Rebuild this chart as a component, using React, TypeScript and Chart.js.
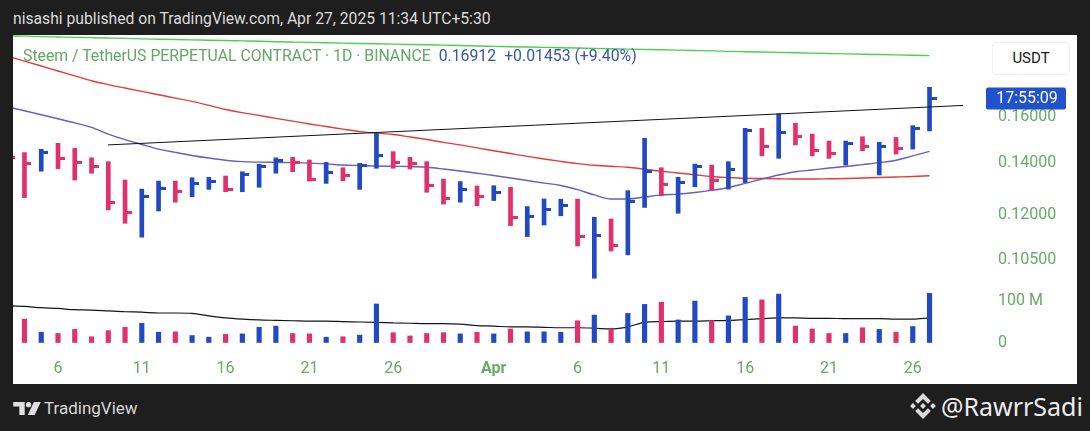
import React, { useEffect, useRef } from "react";
import { Chart, registerables } from "chart.js";

Chart.register(...registerables);

// ---------- data ----------
const DATES = [
  "2025-03-03", "2025-03-04", "2025-03-05", "2025-03-06", "2025-03-07", "2025-03-08", "2025-03-09",
  "2025-03-10", "2025-03-11", "2025-03-12", "2025-03-13", "2025-03-14", "2025-03-15", "2025-03-16",
  "2025-03-17", "2025-03-18", "2025-03-19", "2025-03-20", "2025-03-21", "2025-03-22", "2025-03-23",
  "2025-03-24", "2025-03-25", "2025-03-26", "2025-03-27", "2025-03-28", "2025-03-29", "2025-03-30",
  "2025-03-31", "2025-04-01", "2025-04-02", "2025-04-03", "2025-04-04", "2025-04-05", "2025-04-06",
  "2025-04-07", "2025-04-08", "2025-04-09", "2025-04-10", "2025-04-11", "2025-04-12", "2025-04-13",
  "2025-04-14", "2025-04-15", "2025-04-16", "2025-04-17", "2025-04-18", "2025-04-19", "2025-04-20",
  "2025-04-21", "2025-04-22", "2025-04-23", "2025-04-24", "2025-04-25", "2025-04-26", "2025-04-27",
];

const HIGH = [
  0.1453, 0.1442, 0.1456, 0.1482, 0.146, 0.142, 0.1404, 0.133, 0.1295, 0.1326,
  0.1326, 0.1339, 0.1341, 0.1346, 0.1363, 0.1393, 0.142, 0.1422, 0.1411, 0.1401,
  0.1379, 0.1397, 0.1526, 0.1446, 0.1422, 0.1404, 0.1334, 0.1324, 0.1307, 0.1308,
  0.1302, 0.123, 0.1258, 0.1257, 0.1257, 0.1192, 0.1186, 0.1289, 0.1504, 0.1379,
  0.1341, 0.1394, 0.139, 0.1404, 0.1549, 0.1549, 0.1616, 0.1572, 0.1523, 0.1492,
  0.1492, 0.1511, 0.1486, 0.1508, 0.1561, 0.1748,
];
const LOW = [
  0.137, 0.1263, 0.1365, 0.1375, 0.133, 0.1357, 0.1218, 0.1171, 0.1124, 0.1214,
  0.1246, 0.1266, 0.1294, 0.1285, 0.1285, 0.1302, 0.1357, 0.1363, 0.1326, 0.1317,
  0.1327, 0.1294, 0.1377, 0.1377, 0.1374, 0.1283, 0.1239, 0.1246, 0.1233, 0.1252,
  0.1163, 0.1126, 0.1165, 0.1197, 0.1095, 0.0996, 0.1079, 0.1067, 0.1227, 0.127,
  0.1206, 0.1304, 0.1292, 0.1295, 0.132, 0.1428, 0.1418, 0.1475, 0.1428, 0.1418,
  0.139, 0.145, 0.135, 0.1436, 0.1457, 0.1537,
];
const CLOSE = [
  0.1423, 0.1397, 0.1442, 0.1418, 0.14, 0.1386, 0.1244, 0.1208, 0.1266, 0.1298,
  0.1285, 0.1315, 0.1324, 0.1295, 0.135, 0.1386, 0.1408, 0.1401, 0.1333, 0.1359,
  0.1346, 0.1387, 0.1429, 0.1401, 0.1397, 0.1308, 0.126, 0.1294, 0.1266, 0.1283,
  0.119, 0.1194, 0.1218, 0.1233, 0.1126, 0.1131, 0.1098, 0.1248, 0.1365, 0.1313,
  0.132, 0.1386, 0.133, 0.1373, 0.1541, 0.147, 0.1531, 0.1514, 0.1453, 0.1439,
  0.1482, 0.1467, 0.147, 0.146, 0.1546, 0.16912,
];
const CLOSE_BEFORE_FIRST = 0.145;

// volume in millions
const VOLUME_M = [
  30, 57, 25, 22, 32, 14, 29, 37, 47, 25,
  26, 17, 13, 20, 21, 37, 40, 22, 21, 13,
  14, 18, 94, 24, 16, 22, 24, 21, 25, 21,
  33, 26, 26, 25, 53, 67, 33, 71, 93, 98,
  55, 101, 53, 65, 110, 104, 118, 40, 33, 22,
  22, 36, 32, 25, 39, 120,
];
const VOLUME_MA_M = [
  90, 88, 85, 83, 80, 79, 77, 75, 74, 72,
  72, 71, 65, 60, 57, 55, 54, 53, 52, 52,
  51, 50, 49, 48, 47, 46, 46, 45, 41, 40,
  38, 38, 37, 36, 36, 35, 33, 38, 49, 51,
  52, 52, 53, 54, 56, 58, 60, 60, 59, 59,
  58, 58, 58, 57, 57, 60,
];

const MA_PURPLE = [
  0.1649, 0.1631, 0.1612, 0.1593, 0.1574, 0.1553, 0.1523, 0.1498, 0.1477, 0.1457,
  0.1443, 0.143, 0.1419, 0.141, 0.1404, 0.1402, 0.1401, 0.14, 0.1398, 0.1395,
  0.139, 0.1388, 0.1386, 0.1385, 0.1384, 0.1381, 0.1374, 0.1366, 0.1357, 0.1348,
  0.1338, 0.1328, 0.1318, 0.1309, 0.1293, 0.1273, 0.1258, 0.1258, 0.1265, 0.1273,
  0.1276, 0.1282, 0.129, 0.1301, 0.1317, 0.1334, 0.135, 0.1363, 0.137, 0.1378,
  0.1384, 0.1392, 0.14, 0.141, 0.1428, 0.1447,
];
const MA_RED = [
  0.1915, 0.1888, 0.1861, 0.1834, 0.1808, 0.1782, 0.1762, 0.1744, 0.1727, 0.171,
  0.1693, 0.1677, 0.1657, 0.1637, 0.1622, 0.1609, 0.1595, 0.1582, 0.1569, 0.1557,
  0.1545, 0.1534, 0.1527, 0.1521, 0.151, 0.1499, 0.1486, 0.1475, 0.1462, 0.145,
  0.1438, 0.1426, 0.1415, 0.1405, 0.1396, 0.1389, 0.1385, 0.1381, 0.1373, 0.1365,
  0.1358, 0.1351, 0.1344, 0.134, 0.1337, 0.1336, 0.1335, 0.1334, 0.1334, 0.1335,
  0.1336, 0.1338, 0.134, 0.1342, 0.1344, 0.1347,
];
const MA_GREEN = [
  0.2034, 0.2032, 0.2029, 0.2027, 0.2025, 0.2023, 0.2021, 0.2019, 0.2016, 0.2014,
  0.2012, 0.201, 0.2008, 0.2006, 0.2004, 0.2002, 0.1999, 0.1997, 0.1995, 0.1993,
  0.1991, 0.1989, 0.1987, 0.1985, 0.1983, 0.1981, 0.1979, 0.1977, 0.1974, 0.1972,
  0.197, 0.1968, 0.1966, 0.1964, 0.1962, 0.196, 0.1958, 0.1956, 0.1954, 0.1952,
  0.195, 0.1948, 0.1946, 0.1943, 0.1941, 0.1939, 0.1937, 0.1935, 0.1933, 0.1931,
  0.1929, 0.1927, 0.1925, 0.1923, 0.1921, 0.1919,
];

// trend line anchors (position in bar index units, price)
const TREND_POS = [5.98, 57.0];
const TREND_PRICE = [0.1475, 0.1657];

const X_TICK_DATES = [
  "2025-03-06", "2025-03-11", "2025-03-16", "2025-03-21", "2025-03-26",
  "2025-04-01", "2025-04-06", "2025-04-11", "2025-04-16", "2025-04-21", "2025-04-26",
];
const X_TICK_LABELS = ["6", "11", "16", "21", "26", "Apr", "6", "11", "16", "21", "26"];
const PRICE_TICKS = [0.105, 0.12, 0.14, 0.16];
const VOLUME_TICKS = [0, 100000000];
const VOLUME_TICK_LABELS = ["0", "100 M"];

const SYMBOL = "Steem / TetherUS PERPETUAL CONTRACT · 1D · BINANCE";
const LAST_PRICE = 0.16912;
const CHANGE = 0.01453;
const CHANGE_PCT = 9.4;
const COUNTDOWN = "17:55:09";

// ---------- styles ----------
const BLUE = "#2149c4";
const PINK = "#e2306c";
const AXIS_GREEN = "#66ab66";
const FONT = "Roboto, 'Noto Sans', sans-serif";

function makeTick(color: string) {
  const c = document.createElement("canvas");
  c.width = 14;
  c.height = 3;
  const g = c.getContext("2d")!;
  g.fillStyle = color;
  g.fillRect(7, 0, 7, 3);
  return c;
}

const zeroPad = (s: any) => {
  s.paddingTop = 0;
  s.paddingBottom = 0;
  s.paddingLeft = 0;
  s.paddingRight = 0;
};

export default function App() {
  const ref = useRef<HTMLCanvasElement>(null);

  useEffect(() => {
    const canvas = ref.current;
    if (!canvas) return;
    const tickBlue = makeTick(BLUE);
    const tickPink = makeTick(PINK);
    const idx = CLOSE.map((_, i) => i);
    const up = CLOSE.map((c, i) => c >= (i === 0 ? CLOSE_BEFORE_FIRST : CLOSE[i - 1]));
    const colors = up.map((u) => (u ? BLUE : PINK));
    const tickPos = X_TICK_DATES.map((d) => DATES.indexOf(d));

    const priceLabel = {
      id: "priceLabel",
      afterDraw(chart: any) {
        const { ctx, chartArea } = chart;
        const y = chart.scales.y.getPixelForValue(LAST_PRICE);
        const left = chartArea.right + 8;
        ctx.save();
        ctx.fillStyle = "#2152cc";
        ctx.beginPath();
        if (ctx.roundRect) ctx.roundRect(left, y - 11, 80, 22, 2);
        else ctx.rect(left, y - 11, 80, 22);
        ctx.fill();
        ctx.fillStyle = "#ffffff";
        ctx.font = `16px ${FONT}`;
        ctx.textAlign = "center";
        ctx.textBaseline = "middle";
        ctx.fillText(COUNTDOWN, left + 41, y + 1);
        ctx.restore();
      },
    };

    const chart = new Chart(canvas, {
      type: "bar",
      data: {
        datasets: [
          {
            type: "line",
            data: TREND_POS.map((p, i) => ({ x: p, y: TREND_PRICE[i] })),
            borderColor: "#111111",
            borderWidth: 1,
            pointRadius: 0,
            yAxisID: "y",
          },
          {
            type: "scatter",
            data: idx.map((i) => ({ x: i, y: CLOSE[i] })),
            pointStyle: up.map((u) => (u ? tickBlue : tickPink)),
            pointRadius: 12,
            yAxisID: "y",
          },
          {
            type: "bar",
            data: idx.map((i) => ({ x: i, y: [LOW[i], HIGH[i]] })),
            backgroundColor: colors,
            borderWidth: 0,
            barThickness: 4,
            grouped: false,
            yAxisID: "y",
          },
          {
            type: "bar",
            data: idx.map((i) => ({ x: i, y: VOLUME_M[i] * 1e6 })),
            backgroundColor: colors,
            borderWidth: 0,
            barThickness: 4.5,
            grouped: false,
            yAxisID: "vol",
          },
          {
            type: "line",
            data: idx.map((i) => ({ x: i, y: VOLUME_MA_M[i] * 1e6 })),
            borderColor: "#151515",
            borderWidth: 1.2,
            pointRadius: 0,
            cubicInterpolationMode: "monotone",
            yAxisID: "vol",
          },
          {
            type: "line",
            data: idx.map((i) => ({ x: i, y: MA_PURPLE[i] })),
            borderColor: "#6a5cc0",
            borderWidth: 1.4,
            pointRadius: 0,
            cubicInterpolationMode: "monotone",
            yAxisID: "y",
          },
          {
            type: "line",
            data: idx.map((i) => ({ x: i, y: MA_RED[i] })),
            borderColor: "#e33b35",
            borderWidth: 1.4,
            pointRadius: 0,
            cubicInterpolationMode: "monotone",
            yAxisID: "y",
          },
          {
            type: "line",
            data: idx.map((i) => ({ x: i, y: MA_GREEN[i] })),
            borderColor: "#4fcf4f",
            borderWidth: 1.4,
            pointRadius: 0,
            cubicInterpolationMode: "monotone",
            yAxisID: "y",
          },
        ],
      } as any,
      options: {
        animation: false,
        responsive: true,
        maintainAspectRatio: false,
        events: [],
        layout: { padding: 0, autoPadding: false },
        plugins: { legend: { display: false }, tooltip: { enabled: false } },
        scales: {
          x: {
            type: "linear",
            position: "bottom",
            offset: false,
            min: 0.315,
            max: 57.892,
            grid: { display: false, drawTicks: false, offset: false },
            border: { display: false },
            afterBuildTicks: (s: any) => {
              s.ticks = tickPos.map((v) => ({ value: v }));
            },
            afterFit: (s: any) => {
              s.height = 32;
              zeroPad(s);
            },
            ticks: {
              autoSkip: false,
              maxRotation: 0,
              padding: 7,
              color: AXIS_GREEN,
              font: (c: any) => ({
                family: FONT,
                size: 16,
                weight: c.tick && X_TICK_LABELS[tickPos.indexOf(c.tick.value)] === "Apr" ? "bold" : "normal",
              }),
              callback: (v: any) => X_TICK_LABELS[tickPos.indexOf(Number(v))] ?? "",
            },
          },
          y: {
            type: "logarithmic",
            position: "right",
            stack: "right",
            stackWeight: 250,
            offset: false,
            min: 0.09763,
            max: 0.2039,
            grid: { display: false, drawTicks: false },
            border: { display: false },
            afterBuildTicks: (s: any) => {
              s.ticks = PRICE_TICKS.map((v) => ({ value: v }));
            },
            afterFit: (s: any) => {
              s.width = 99;
              zeroPad(s);
            },
            ticks: {
              padding: 20,
              color: AXIS_GREEN,
              font: { family: FONT, size: 16 },
              callback: (v: any) => Number(v).toFixed(5),
            },
          },
          vol: {
            type: "linear",
            position: "right",
            stack: "right",
            stackWeight: 67,
            offset: false,
            min: -23170000,
            max: 140240000,
            grid: { display: false, drawTicks: false },
            border: { display: false },
            afterBuildTicks: (s: any) => {
              s.ticks = VOLUME_TICKS.map((v) => ({ value: v }));
            },
            afterFit: (s: any) => {
              s.width = 99;
              zeroPad(s);
            },
            ticks: {
              padding: 20,
              color: AXIS_GREEN,
              font: { family: FONT, size: 16 },
              callback: (v: any) => VOLUME_TICK_LABELS[VOLUME_TICKS.indexOf(Number(v))] ?? "",
            },
          },
        },
      } as any,
      plugins: [priceLabel],
    });
    return () => chart.destroy();
  }, []);

  const changeText = `${CHANGE >= 0 ? "+" : ""}${CHANGE.toFixed(5)} (${CHANGE_PCT >= 0 ? "+" : ""}${CHANGE_PCT.toFixed(2)}%)`;

  return (
    <div
      style={{
        position: "fixed",
        left: 0,
        top: 0,
        width: 1090,
        height: 431,
        background: "#1e1e1e",
        overflow: "hidden",
        fontFamily: FONT,
      }}
    >
      <div
        style={{
          position: "absolute",
          left: 13,
          top: 8,
          color: "#dcdcdc",
          fontSize: 15.7,
          lineHeight: "22px",
          whiteSpace: "nowrap",
        }}
      >
        nisashi published on TradingView.com, Apr 27, 2025 11:34 UTC+5:30
      </div>

      <div
        style={{
          position: "absolute",
          left: 13,
          top: 35,
          width: 1064,
          height: 349,
          background: "#ffffff",
        }}
      >
        <div style={{ position: "absolute", left: 0, top: 0, width: 1064, height: 349 }}>
          <canvas ref={ref} />
        </div>
        <div
          style={{
            position: "absolute",
            left: 10,
            top: 10,
            fontSize: 15.8,
            lineHeight: "22px",
            whiteSpace: "nowrap",
            pointerEvents: "none",
          }}
        >
          <span style={{ color: "#62a862" }}>{SYMBOL}</span>
          <span style={{ color: "#3556a8", marginLeft: 8 }}>{LAST_PRICE.toFixed(5)}</span>
          <span style={{ color: "#3556a8", marginLeft: 8 }}>{changeText}</span>
        </div>
        <div
          style={{
            position: "absolute",
            left: 979,
            top: 7,
            width: 78,
            height: 33,
            border: "1px solid #efefef",
            borderRadius: 4,
            boxSizing: "border-box",
            color: "#1a1a1a",
            fontSize: 15,
            lineHeight: "31px",
            textAlign: "center",
            background: "#fff",
          }}
        >
          USDT
        </div>
      </div>

      <div style={{ position: "absolute", left: 13, top: 400, width: 28, height: 13 }}>
        <svg width="28" height="13" viewBox="0 0 36 17">
          <path d="M0 0H15V17H8V6H0Z" fill="#e0e0e0" />
          <circle cx="20" cy="3.5" r="3.5" fill="#e0e0e0" />
          <path d="M27 0H36L28 17H19Z" fill="#e0e0e0" />
        </svg>
      </div>
      <div
        style={{
          position: "absolute",
          left: 44,
          top: 397,
          color: "#d8d8d8",
          fontSize: 17,
          lineHeight: "22px",
        }}
      >
        TradingView
      </div>

      <div style={{ position: "absolute", left: 910, top: 393, width: 26, height: 26 }}>
        <svg width="26" height="26" viewBox="-2 -2 132 132">
          <path d="M38.73 53.2L64 27.93l25.28 25.28 14.7-14.7L64 -1.47 24.03 38.5z" fill="#dadada" />
          <path d="M-1.47 64l14.7-14.7L27.93 64l-14.7 14.7z" fill="#dadada" />
          <path d="M38.73 74.8L64 100.07l25.28-25.28 14.7 14.69L64 129.47 24.03 89.49z" fill="#dadada" />
          <path d="M100.07 64l14.7-14.7L129.47 64l-14.7 14.7z" fill="#dadada" />
          <path d="M78.91 63.99L64 49.08 49.1 63.98 64 78.91z" fill="#dadada" />
        </svg>
      </div>
      <div
        style={{
          position: "absolute",
          left: 941,
          top: 390,
          color: "#ececec",
          fontSize: 25,
          lineHeight: "32px",
          fontFamily: "'Noto Sans', 'Open Sans', sans-serif",
          whiteSpace: "nowrap",
        }}
      >
        @RawrrSadi
      </div>
    </div>
  );
}
